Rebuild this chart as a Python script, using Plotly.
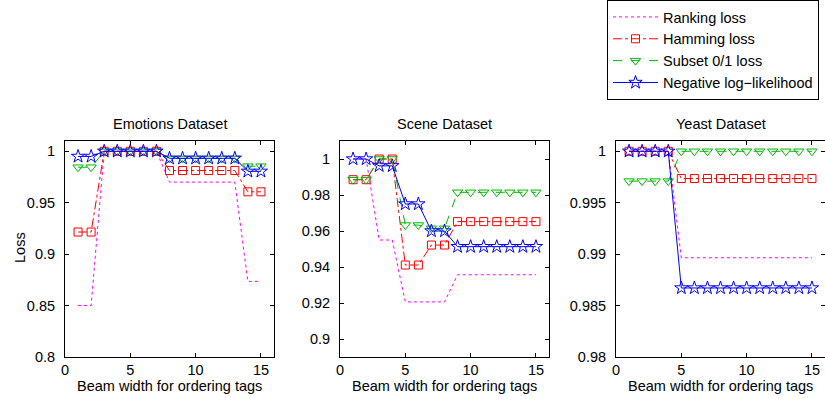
import plotly.graph_objects as go

beam = list(range(1, 16))

# Emotions dataset
emo_rank = [0.85, 0.85, 1, 1, 1, 1, 1, 0.97, 0.97, 0.97, 0.97, 0.97, 0.97, 0.8735, 0.8735]
emo_hamm = [0.9215, 0.9215, 1, 1, 1, 1, 1, 0.9813, 0.9813, 0.9813, 0.9813, 0.9813, 0.9813, 0.9606, 0.9606]
emo_subset = [0.9845, 0.9845, 1, 1, 1, 1, 1, 0.993, 0.993, 0.993, 0.993, 0.993, 0.993, 0.9855, 0.9855]
emo_nll = [0.995, 0.995, 1, 1, 1, 1, 1, 0.9932, 0.9932, 0.9932, 0.9932, 0.9932, 0.9932, 0.9805, 0.9805]

# Scene dataset
sce_rank = [1, 1, 0.955, 0.955, 0.9206, 0.9206, 0.9206, 0.9206, 0.9357, 0.9357, 0.9357, 0.9357, 0.9357, 0.9357, 0.9357]
sce_hamm = [0.9885, 0.9885, 1, 1, 0.9411, 0.9411, 0.9522, 0.9522, 0.9652, 0.9652, 0.9652, 0.9652, 0.9652, 0.9652, 0.9652]
sce_subset = [0.9885, 0.9885, 1, 1, 0.9633, 0.9633, 0.9615, 0.9615, 0.9815, 0.9815, 0.9815, 0.9815, 0.9815, 0.9815, 0.9815]
sce_nll = [1, 1, 0.9962, 0.9962, 0.975, 0.975, 0.96, 0.96, 0.9513, 0.9513, 0.9513, 0.9513, 0.9513, 0.9513, 0.9513]

# Yeast dataset
yea_rank = [1, 1, 1, 1] + [0.98965] * 11
yea_hamm = [1, 1, 1, 1] + [0.99735] * 11
yea_subset = [0.9971, 0.9971, 0.9971, 0.9971] + [1.0] * 11
yea_nll = [1, 1, 1, 1] + [0.98671] * 11

series_names = ["Ranking loss", "Hamming loss", "Subset 0/1 loss", "Negative log\u2212likelihood"]
titles = ["Emotions Dataset", "Scene Dataset", "Yeast Dataset"]
x_label = "Beam width for ordering tags"
y_label = "Loss"

x_ticks = [0, 5, 10, 15]
y_ticks = [
    [0.8, 0.85, 0.9, 0.95, 1],
    [0.9, 0.92, 0.94, 0.96, 0.98, 1],
    [0.98, 0.985, 0.99, 0.995, 1],
]
y_tick_text = [
    ["0.8", "0.85", "0.9", "0.95", "1"],
    ["0.9", "0.92", "0.94", "0.96", "0.98", "1"],
    ["0.98", "0.985", "0.99", "0.995", "1"],
]
y_ranges = [[0.8, 1.01], [0.89, 1.01], [0.98, 1.001]]

data = [
    [emo_rank, emo_hamm, emo_subset, emo_nll],
    [sce_rank, sce_hamm, sce_subset, sce_nll],
    [yea_rank, yea_hamm, yea_subset, yea_nll],
]

W, H = 825, 399
FONT = "Liberation Sans, Arial, Helvetica, sans-serif"
FS = 14.5

styles = [
    dict(mode="lines", line=dict(color="#FF00FF", width=1, dash="dot")),
    dict(mode="lines+markers", line=dict(color="#FF0000", width=1, dash="dashdot"),
         marker=dict(symbol="square-open", size=8, color="#FF0000", line=dict(width=1))),
    dict(mode="lines+markers", line=dict(color="#00B400", width=1, dash="dash"),
         marker=dict(symbol="triangle-down-open", size=9, color="#00B400", line=dict(width=1))),
    dict(mode="lines+markers", line=dict(color="#0000FF", width=1),
         marker=dict(symbol="star-open", size=10, color="#0000FF", line=dict(width=1))),
]

fig = go.Figure()

x_domains = [[65 / W, 274 / W], [340 / W, 549 / W], [616 / W, 1.0]]
y_domain = [(H - 357) / H, (H - 141) / H]

for p in range(3):
    xa = "x" if p == 0 else f"x{p+1}"
    ya = "y" if p == 0 else f"y{p+1}"
    for s in range(4):
        fig.add_trace(go.Scatter(
            x=beam, y=data[p][s], name=series_names[s], xaxis=xa, yaxis=ya,
            showlegend=(p == 0), **styles[s]))

layout = dict(
    template="none",
    width=W, height=H,
    margin=dict(l=0, r=0, t=0, b=0, pad=0, autoexpand=False),
    paper_bgcolor="white", plot_bgcolor="white",
    font=dict(family=FONT, size=FS, color="black"),
    legend=dict(x=607 / W, y=1.0, xanchor="left", yanchor="top",
                bordercolor="black", borderwidth=1, bgcolor="white",
                font=dict(family=FONT, size=FS, color="black"),
                itemwidth=45, tracegroupgap=0),
    annotations=[],
)

for p in range(3):
    xk = "xaxis" if p == 0 else f"xaxis{p+1}"
    yk = "yaxis" if p == 0 else f"yaxis{p+1}"
    ya = "y" if p == 0 else f"y{p+1}"
    xa = "x" if p == 0 else f"x{p+1}"
    layout[xk] = dict(domain=x_domains[p], range=[0, 16], anchor=ya, automargin=False,
                      tickvals=x_ticks, ticks="inside", ticklen=4, mirror="ticks",
                      showline=True, linecolor="black", linewidth=1, tickcolor="black",
                      showgrid=False, zeroline=False, tickfont=dict(size=FS))
    layout[yk] = dict(domain=y_domain, range=y_ranges[p], anchor=xa, automargin=False,
                      tickvals=y_ticks[p], ticktext=y_tick_text[p],
                      ticks="inside", ticklen=4, mirror="ticks",
                      showline=True, linecolor="black", linewidth=1, tickcolor="black",
                      showgrid=False, zeroline=False, tickfont=dict(size=FS),
                      ticklabelstandoff=6)
    cx = (x_domains[p][0] + min(x_domains[p][0] + 209 / W, 1.0)) / 2
    layout["annotations"].append(dict(
        text=titles[p], x=cx, y=1 - 124 / H, xref="paper", yref="paper",
        xanchor="center", yanchor="middle", showarrow=False,
        font=dict(family=FONT, size=FS, color="black")))
    layout["annotations"].append(dict(
        text=x_label, x=cx, y=1 - 386 / H, xref="paper", yref="paper",
        xanchor="center", yanchor="middle", showarrow=False,
        font=dict(family=FONT, size=FS, color="black")))

layout["annotations"].append(dict(
    text=y_label, x=20 / W, y=1 - 248 / H, xref="paper", yref="paper",
    xanchor="center", yanchor="middle", showarrow=False, textangle=-90,
    font=dict(family=FONT, size=FS, color="black")))

fig.update_layout(**layout)
fig.write_html("out.html", config={"displayModeBar": False},
               post_script="document.body.style.margin='0';document.body.style.overflow='hidden';")
